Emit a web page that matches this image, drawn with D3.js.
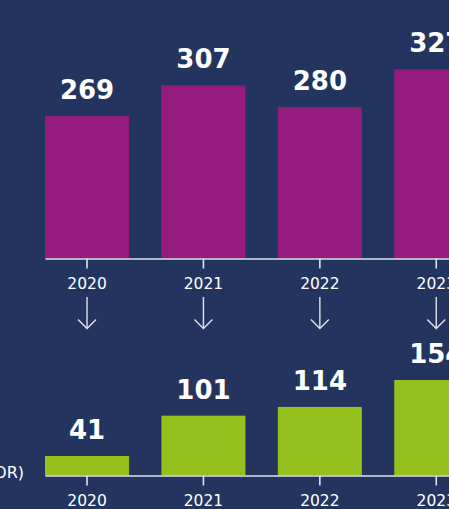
<!DOCTYPE html>
<html>
<head>
<meta charset="utf-8">
<script src="https://cdn.jsdelivr.net/npm/d3@7"></script>
<style>
  html, body { margin: 0; padding: 0; background: #23355f; overflow: hidden; }
  svg { display: block; }
</style>
</head>
<body>
<svg id="chart" width="449" height="509"></svg>
<script>
// Years shared by both panels
const years = ["2020", "2021", "2022", "2023"];
// Upper panel values (purple bars)
const upperValues = [269, 307, 280, 327];
// Lower panel values (green bars)
const lowerValues = [41, 101, 114, 154];
// Caption beside the lower panel (runs off the left edge)
const lowerCaption = "NEW CONTRACTS (VENDOR)";

const colors = {
  bg: "#23355f",
  upper: "#951b7e",
  lower: "#95c11f",
  text: "#ffffff",
  axis: "#dfe3ea"
};

const svg = d3.select("#chart");

svg.append("rect")
  .attr("width", 449).attr("height", 509)
  .attr("fill", colors.bg);

const x = d3.scaleBand()
  .domain(years)
  .range([45, 478.3])
  .paddingInner(0.278)
  .paddingOuter(0);

function panel(values, color, baseline, domain, top) {
  const y = d3.scaleLinear().domain(domain).range([baseline, top]);
  const g = svg.append("g");
  const data = years.map((yr, i) => ({ yr, v: values[i] }));

  g.selectAll("rect.bar").data(data).join("rect")
    .attr("class", "bar")
    .attr("x", d => x(d.yr))
    .attr("width", x.bandwidth())
    .attr("y", d => y(d.v))
    .attr("height", d => baseline - y(d.v))
    .attr("fill", color);

  g.selectAll("text.val").data(data).join("text")
    .attr("class", "val")
    .attr("x", d => x(d.yr) + x.bandwidth() / 2)
    .attr("y", d => y(d.v) - 17)
    .attr("text-anchor", "middle")
    .attr("fill", colors.text)
    .style("font-family", "'DejaVu Sans', sans-serif")
    .style("font-weight", "700")
    .style("font-size", "26px")
    .text(d => d.v);

  const axis = g.append("g")
    .attr("transform", `translate(0,${baseline})`)
    .call(d3.axisBottom(x).tickSizeInner(10).tickSizeOuter(0).tickPadding(9));
  axis.select(".domain").attr("stroke", colors.axis).attr("stroke-width", 1.6);
  axis.selectAll(".tick line").attr("stroke", colors.axis).attr("stroke-width", 1.6);
  axis.selectAll(".tick text")
    .attr("fill", colors.text)
    .style("font-family", "'DejaVu Sans', sans-serif")
    .style("font-size", "15.5px");
  return g;
}

panel(upperValues, colors.upper, 258.5, [91, 330], 67);
panel(lowerValues, colors.lower, 475.5, [12, 160], 376);

// Down arrows linking each upper year to the lower panel
const arrows = svg.append("g")
  .attr("stroke", colors.axis)
  .attr("stroke-width", 1.4)
  .attr("fill", "none");
years.forEach(yr => {
  const cx = x(yr) + x.bandwidth() / 2;
  arrows.append("line")
    .attr("x1", cx).attr("x2", cx)
    .attr("y1", 297).attr("y2", 329);
  arrows.append("path")
    .attr("d", `M${cx - 9},${319.5} L${cx},${328.5} L${cx + 9},${319.5}`);
});

svg.append("text")
  .attr("x", 24)
  .attr("y", 477.5)
  .attr("text-anchor", "end")
  .attr("fill", colors.text)
  .style("font-family", "'DejaVu Sans', sans-serif")
  .style("font-size", "16px")
  .text(lowerCaption);
</script>
</body>
</html>
